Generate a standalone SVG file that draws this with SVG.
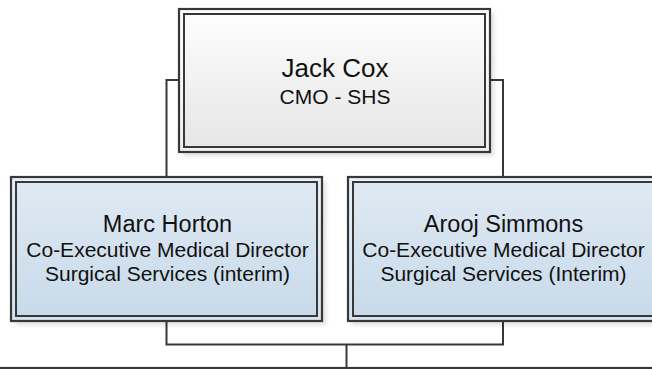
<svg xmlns="http://www.w3.org/2000/svg" width="652" height="369" viewBox="0 0 652 369">
  <defs>
    <linearGradient id="gGray" x1="0" y1="0" x2="0" y2="1">
      <stop offset="0" stop-color="#fdfdfd"/>
      <stop offset="1" stop-color="#e6e6e6"/>
    </linearGradient>
    <linearGradient id="gGrayBand" x1="0" y1="0" x2="0" y2="1">
      <stop offset="0" stop-color="#ffffff"/>
      <stop offset="1" stop-color="#f0f0f0"/>
    </linearGradient>
    <linearGradient id="gBlue" x1="0" y1="0" x2="0" y2="1">
      <stop offset="0" stop-color="#dfe9f3"/>
      <stop offset="1" stop-color="#c8daea"/>
    </linearGradient>
    <linearGradient id="gBlueBand" x1="0" y1="0" x2="0" y2="1">
      <stop offset="0" stop-color="#e9f0f7"/>
      <stop offset="1" stop-color="#d6e3ef"/>
    </linearGradient>
    <filter id="blur" x="-10%" y="-10%" width="120%" height="120%">
      <feGaussianBlur stdDeviation="2"/>
    </filter>
  </defs>
  <style>
    .outer { stroke: #383838; stroke-width: 2.2; }
    .inner { stroke: #383838; stroke-width: 2; }
    .shadow { fill: #000000; opacity: 0.12; filter: url(#blur); }
    .conn { fill: none; stroke: #383838; stroke-width: 2; }
    text { font-family: "Liberation Sans", Arial, sans-serif; fill: #111111; text-anchor: middle; }
    .name { font-size: 26px; }
    .name2 { font-size: 23.5px; }
    .title { font-size: 21px; }
  </style>

  <rect width="652" height="369" fill="#ffffff"/>

  <g id="connectors">
    <path class="conn" d="M179,80 H166.5 V177"/>
    <path class="conn" d="M490,80 H503 V177"/>
    <path class="conn" d="M166.5,321 V344.5 H503 V321"/>
    <path class="conn" d="M346.5,344.5 V369"/>
  </g>

  <g id="node-jack-cox">
    <rect class="shadow" x="183" y="13" width="311" height="143"/>
    <rect class="outer" x="179" y="9" width="311" height="143" fill="url(#gGrayBand)"/>
    <rect class="inner" x="184" y="14" width="301" height="133" fill="url(#gGray)"/>
    <text class="name" x="335" y="76.5">Jack Cox</text>
    <text class="title" x="335" y="104">CMO - SHS</text>
  </g>

  <g id="node-marc-horton">
    <rect class="shadow" x="15" y="181" width="311" height="144"/>
    <rect class="outer" x="11" y="177" width="311" height="144" fill="url(#gBlueBand)"/>
    <rect class="inner" x="16" y="182" width="301" height="134" fill="url(#gBlue)"/>
    <text class="name2" x="167.5" y="231.5">Marc Horton</text>
    <text class="title" x="167.5" y="256.5">Co-Executive Medical Director</text>
    <text class="title" x="167.5" y="280.5">Surgical Services (interim)</text>
  </g>

  <g id="node-arooj-simmons">
    <rect class="shadow" x="352" y="181" width="311" height="144"/>
    <rect class="outer" x="348" y="177" width="311" height="144" fill="url(#gBlueBand)"/>
    <rect class="inner" x="353" y="182" width="301" height="134" fill="url(#gBlue)"/>
    <text class="name2" x="503.5" y="231.5">Arooj Simmons</text>
    <text class="title" x="503.5" y="256.5">Co-Executive Medical Director</text>
    <text class="title" x="503.5" y="280.5">Surgical Services (Interim)</text>
  </g>

  <g id="node-below">
    <rect class="outer" x="-20" y="368" width="700" height="40" fill="url(#gGrayBand)"/>
  </g>
</svg>
